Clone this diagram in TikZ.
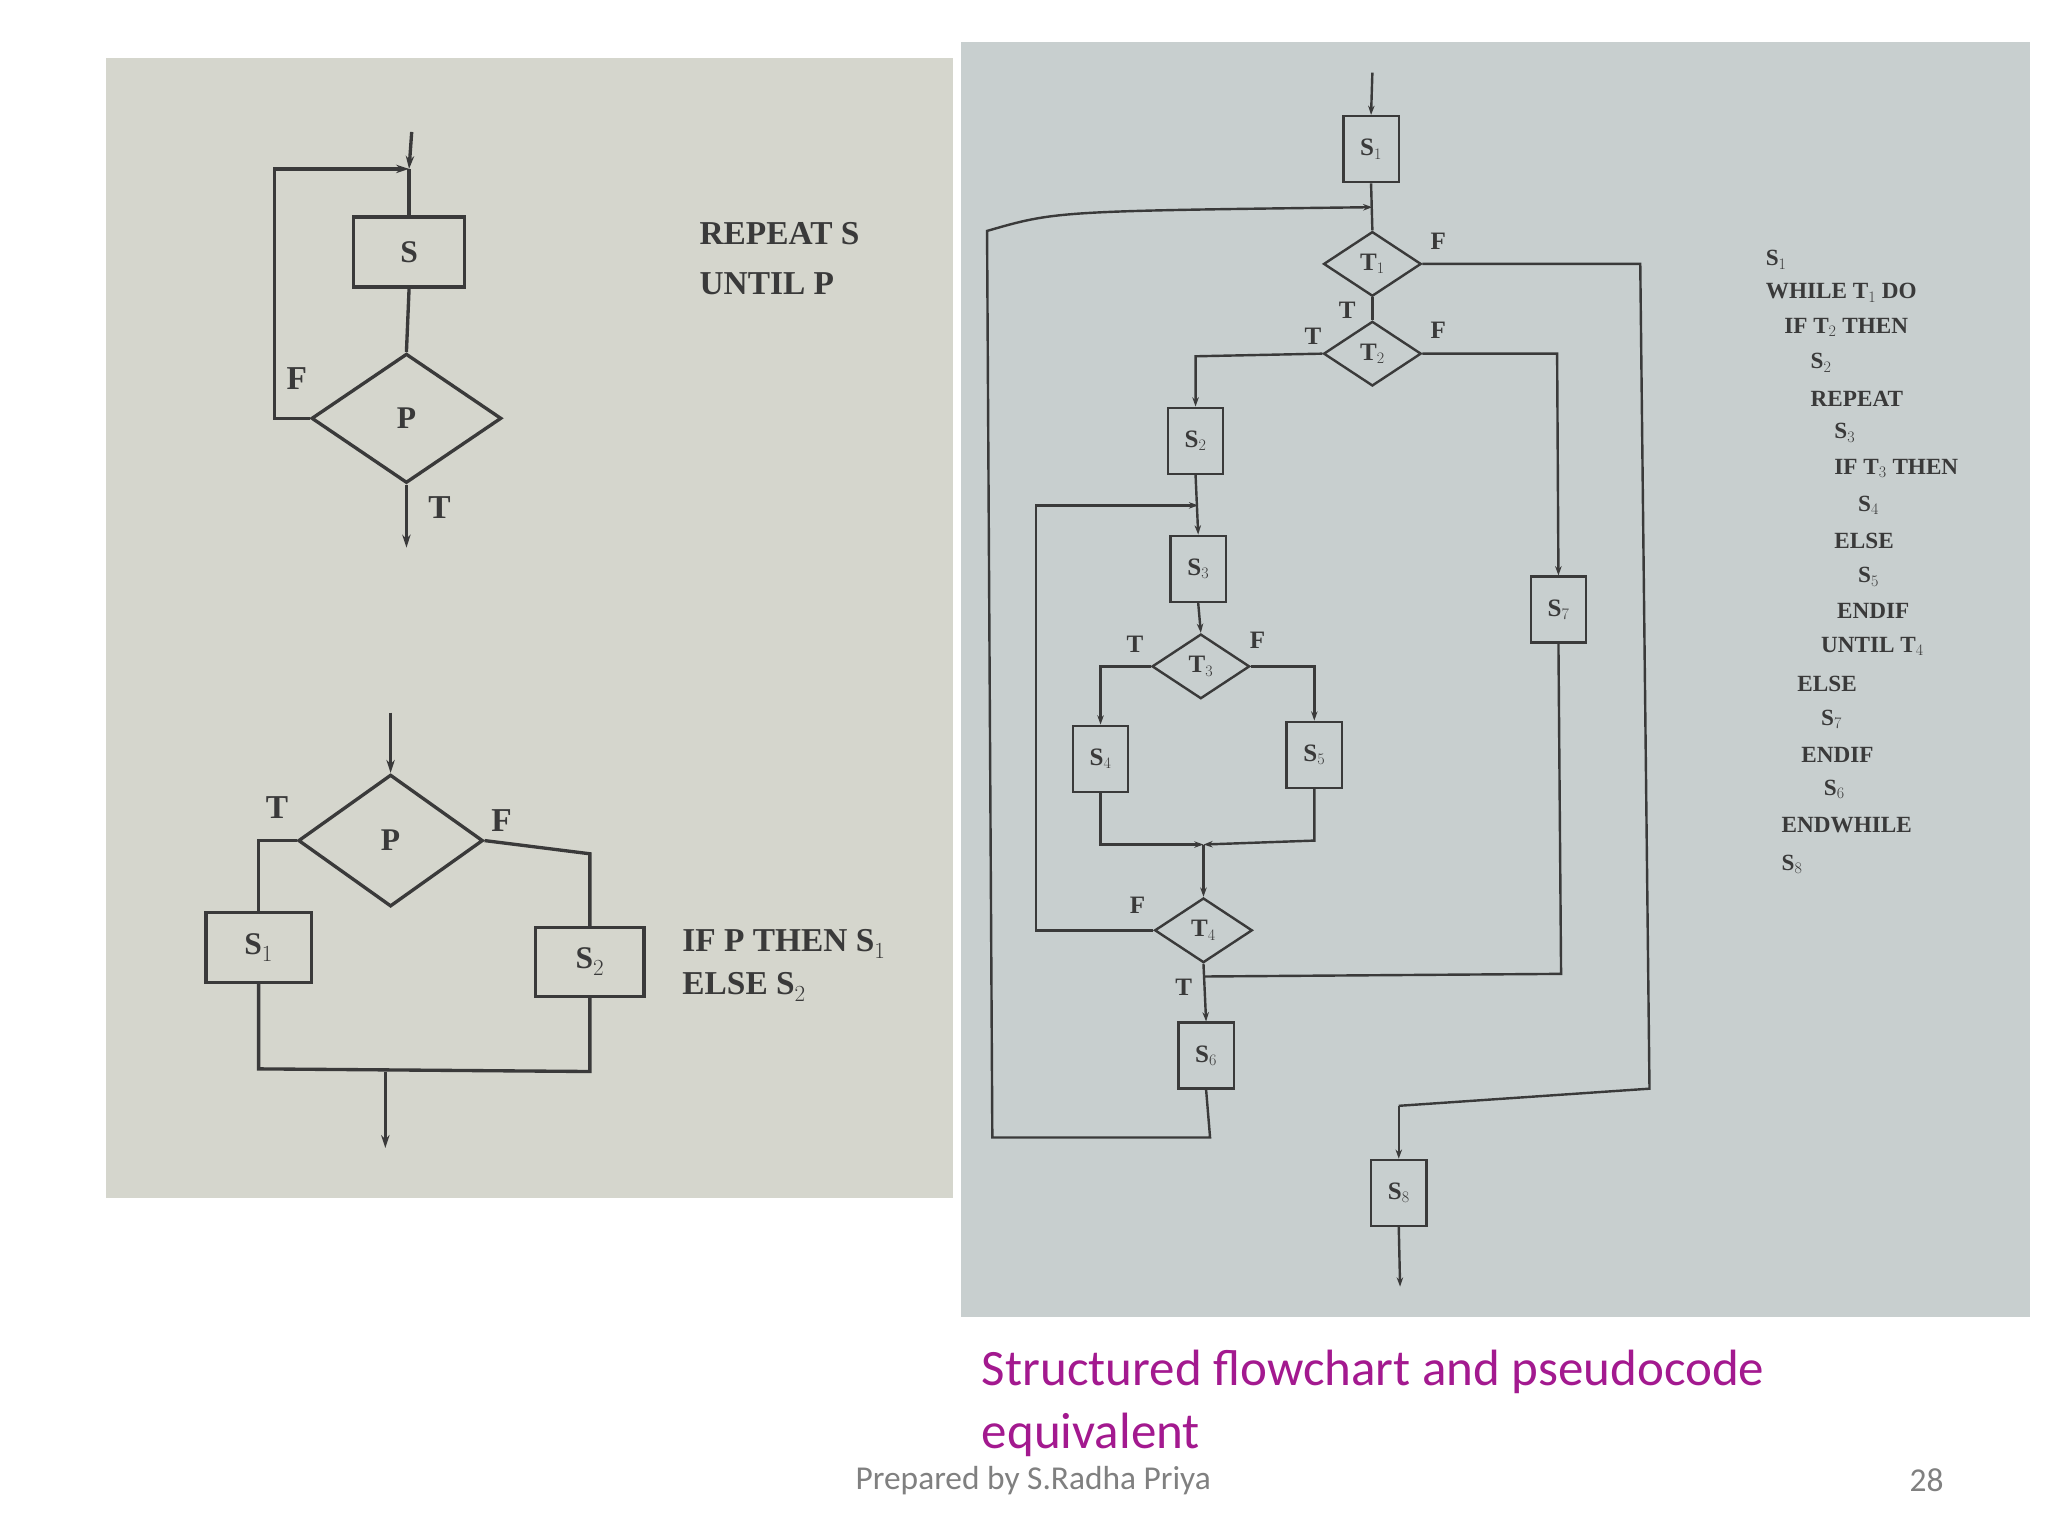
\documentclass[tikz,border=0pt]{standalone}
\usepackage{fontspec}
\setmainfont{Liberation Serif}
\newfontfamily\calfont{Carlito}
\usetikzlibrary{shapes.geometric,arrows.meta}
\definecolor{pl}{HTML}{D5D6CD}
\definecolor{pr}{HTML}{C8CFCF}
\definecolor{ink}{HTML}{3A3A3A}
\definecolor{capc}{HTML}{A3198F}
\begin{document}
\begin{tikzpicture}[x=0.05cm,y=-0.05cm,
  ln/.style={draw=ink,line width=3.6pt},
  rl/.style={draw=ink,line width=2.6pt},
  arr/.style={-{Stealth[length=14pt,width=9pt]}},
  sarr/.style={-{Stealth[length=10pt,width=7pt]}},
  lbox/.style={draw=ink,line width=3.6pt,rectangle,inner sep=0pt,font=\bfseries\fontsize{34}{36}\selectfont,text=ink},
  ldia/.style={draw=ink,line width=3.6pt,diamond,inner sep=0pt,font=\bfseries\fontsize{34}{36}\selectfont,text=ink},
  rbox/.style={draw=ink,line width=2.6pt,rectangle,inner sep=0pt,minimum width=2.1cm,minimum height=2.5cm,font=\bfseries\fontsize{27}{29}\selectfont,text=ink},
  rdia/.style={draw=ink,line width=2.6pt,diamond,inner sep=0pt,minimum width=3.7cm,minimum height=2.45cm,font=\bfseries\fontsize{27}{29}\selectfont,text=ink},
  lt/.style={font=\bfseries\fontsize{36}{38}\selectfont,text=ink,inner sep=0pt},
  rt/.style={font=\bfseries\fontsize{27}{29}\selectfont,text=ink,inner sep=0pt},
  ps/.style={font=\bfseries\fontsize{25}{27}\selectfont,text=ink,anchor=west,inner sep=0pt}]
\useasboundingbox (0,0) rectangle (1552,1164);
\fill[white] (0,0) rectangle (1552,1164);
\fill[pl] (80,44) rectangle (722,908);
\fill[pr] (728,32) rectangle (1538,998);

% ---- left top: REPEAT
\node[lbox,minimum width=4.2cm,minimum height=2.65cm] (S) at (310,191) {S};
\node[ldia,minimum width=7.2cm,minimum height=4.9cm] (P) at (308,317) {P};
\coordinate (in1) at (312,100);
\coordinate (j1) at (310,128);
\coordinate (o1) at (308,415);
\draw[ln,arr] (in1) -- (j1);
\draw[ln] (j1) -- (S.north);
\draw[ln] (S.south) -- (P.north);
\draw[ln,arr] (P.west) -- (208,317) -- (208,128) -- (j1);
\draw[ln,arr] (P.south) -- (o1);
\node[lt] (fl1) at (225,287) {F};
\node[lt] (tl1) at (333,385) {T};
\node[lt,anchor=west] (rep) at (530,177) {REPEAT S};
\node[lt,anchor=west] (unt) at (530,215) {UNTIL P};

% ---- left bottom: IF
\node[ldia,minimum width=7cm,minimum height=5cm] (P2) at (296,637) {P};
\node[lbox,minimum width=4cm,minimum height=2.65cm] (A1) at (196,718) {S$_1$};
\node[lbox,minimum width=4.1cm,minimum height=2.6cm] (A2) at (447,729) {S$_2$};
\coordinate (in2) at (296,540);
\coordinate (o2) at (292,870);
\coordinate (j2) at (292,812);
\draw[ln,arr] (in2) -- (P2.north);
\draw[ln] (P2.west) -- (196,637) -- (A1.north);
\draw[ln] (P2.east) -- (447,647) -- (A2.north);
\draw[ln] (A1.south) -- (196,810) -- (447,812) -- (A2.south);
\draw[ln,arr] (j2) -- (o2);
\node[lt] (tl2) at (210,612) {T};
\node[lt] (fl2) at (380,622) {F};
\node[lt,anchor=west] (ifp) at (517,715) {IF P THEN S$_1$};
\node[lt,anchor=west] (els) at (517,748) {ELSE S$_2$};

% ---- right flowchart
\node[rbox] (R1) at (1039,113) {S$_1$};
\node[rdia] (T1) at (1040,200) {T$_1$};
\node[rdia] (T2) at (1040,268) {T$_2$};
\node[rbox] (R2) at (906,334) {S$_2$};
\node[rbox] (R3) at (908,431) {S$_3$};
\node[rdia] (T3) at (910,505) {T$_3$};
\node[rbox] (R4) at (834,575) {S$_4$};
\node[rbox] (R5) at (996,572) {S$_5$};
\node[rdia] (T4) at (912,705) {T$_4$};
\node[rbox] (R6) at (914,800) {S$_6$};
\node[rbox] (R7) at (1181,462) {S$_7$};
\node[rbox] (R8) at (1060,904) {S$_8$};
\coordinate (rin) at (1040,55);
\coordinate (rout) at (1061,975);
\coordinate (loopin) at (1040,157);
\coordinate (rep2) at (908,383);
\coordinate (mj) at (912,640);
\coordinate (s7j) at (913,740);
\draw[rl,sarr] (rin) -- (R1.north);
\draw[rl] (R1.south) -- (T1.north);
\draw[rl,sarr] (R6.south) -- (917,862) -- (752,862) -- (748,175) .. controls (800,160) .. (loopin);
\draw[rl] (T1.east) -- (1243,200) -- (1250,825) -- (1060,838);
\draw[rl,sarr] (1060,838) -- (R8.north);
\draw[rl,sarr] (R8.south) -- (rout);
\draw[rl] (T1.south) -- (T2.north);
\draw[rl,sarr] (T2.west) -- (906,270) -- (R2.north);
\draw[rl,sarr] (T2.east) -- (1180,268) -- (R7.north);
\draw[rl] (R7.south) -- (1183,738) -- (s7j);
\draw[rl,sarr] (R2.south) -- (R3.north);
\draw[rl,sarr] (R3.south) -- (T3.north);
\draw[rl,sarr] (T3.west) -- (834,505) -- (R4.north);
\draw[rl,sarr] (T3.east) -- (996,505) -- (R5.north);
\draw[rl,sarr] (R4.south) -- (834,640) -- (mj);
\draw[rl,sarr] (R5.south) -- (996,637) -- (mj);
\draw[rl,sarr] (mj) -- (T4.north);
\draw[rl,sarr] (T4.west) -- (785,705) -- (785,383) -- (rep2);
\draw[rl,sarr] (T4.south) -- (R6.north);
\node[rt] (f1) at (1090,183) {F};
\node[rt] (t1) at (1021,235) {T};
\node[rt] (t2) at (995,255) {T};
\node[rt] (f2) at (1090,250) {F};
\node[rt] (t3) at (860,488) {T};
\node[rt] (f3) at (953,485) {F};
\node[rt] (f4) at (862,686) {F};
\node[rt] (t4) at (897,748) {T};

% ---- pseudocode
\node[ps] (p1) at (1338,197) {S$_1$};
\node[ps] (p2) at (1338,222) {WHILE T$_1$ DO};
\node[ps] (p3) at (1352,248) {IF T$_2$ THEN};
\node[ps] (p4) at (1372,275) {S$_2$};
\node[ps] (p5) at (1372,302) {REPEAT};
\node[ps] (p6) at (1390,328) {S$_3$};
\node[ps] (p7) at (1390,355) {IF T$_3$ THEN};
\node[ps] (p8) at (1408,383) {S$_4$};
\node[ps] (p9) at (1390,410) {ELSE};
\node[ps] (p10) at (1408,437) {S$_5$};
\node[ps] (p11) at (1392,463) {ENDIF};
\node[ps] (p12) at (1380,490) {UNTIL T$_4$};
\node[ps] (p13) at (1362,518) {ELSE};
\node[ps] (p14) at (1380,545) {S$_7$};
\node[ps] (p15) at (1365,572) {ENDIF};
\node[ps] (p16) at (1382,598) {S$_6$};
\node[ps] (p17) at (1350,625) {ENDWHILE};
\node[ps] (p18) at (1350,655) {S$_8$};

% ---- captions
\node[anchor=west,inner sep=0pt,text=capc,font=\calfont\fontsize{55}{57}\selectfont] (c1) at (744,1040) {Structured flowchart and pseudocode};
\node[anchor=west,inner sep=0pt,text=capc,font=\calfont\fontsize{55}{57}\selectfont] (c2) at (744,1087) {equivalent};
\node[inner sep=0pt,text=gray,font=\calfont\fontsize{36}{38}\selectfont] (ft) at (783,1122) {Prepared by S.Radha Priya};
\node[inner sep=0pt,text=gray,font=\calfont\fontsize{36}{38}\selectfont] (pg) at (1460,1122) {28};
\end{tikzpicture}
\end{document}
